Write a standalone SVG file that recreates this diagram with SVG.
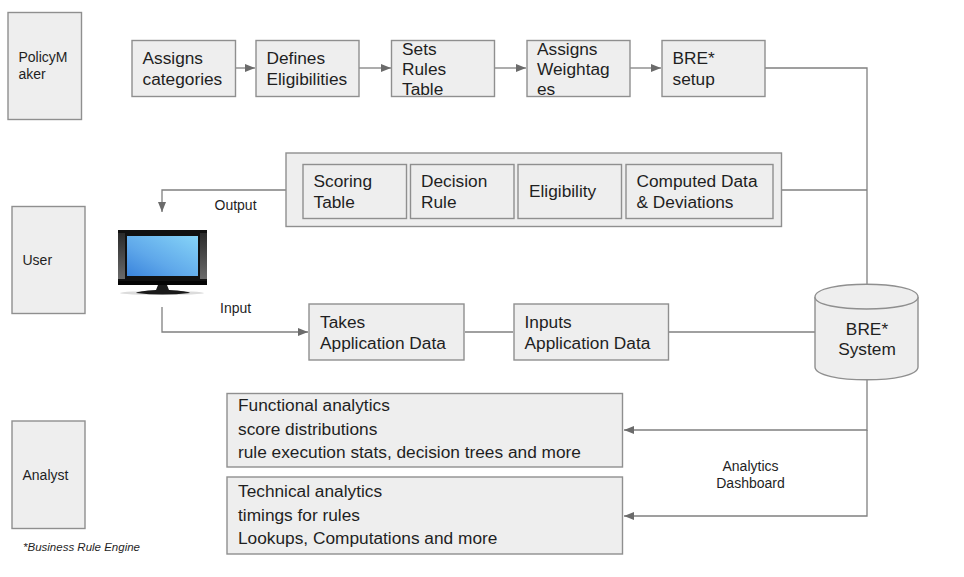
<svg xmlns="http://www.w3.org/2000/svg" width="964" height="577" viewBox="0 0 964 577">
<style>
text{font-family:"Liberation Sans",Arial,sans-serif;fill:#1f1f1f}
.b{fill:#eeeeee;stroke:#8f8f8f;stroke-width:1.4}
.t{font-size:17.3px}
.s{font-size:14px}
.c{fill:none;stroke:#808080;stroke-width:1.3}
.m{text-anchor:middle}
</style>
<defs>
<marker id="a" markerUnits="userSpaceOnUse" markerWidth="11" markerHeight="8" refX="10" refY="4" orient="auto"><path d="M0 0L10 4L0 8Z" fill="#6b6b6b"/></marker>
<linearGradient id="scr2" x1="1" y1="0" x2="0" y2="1"><stop offset="0" stop-color="#86d4f8"/><stop offset=".6" stop-color="#5fa8ea"/><stop offset="1" stop-color="#3a84dc"/></linearGradient>
<linearGradient id="bez" x1="0" y1="0" x2="0" y2="1"><stop offset="0" stop-color="#2a2a2a"/><stop offset="1" stop-color="#6a6a6a"/></linearGradient>
</defs>
<g id="connectors">
<path class="c" marker-end="url(#a)" d="M236 68H255"/>
<path class="c" marker-end="url(#a)" d="M359 68H391"/>
<path class="c" marker-end="url(#a)" d="M495 68H526"/>
<path class="c" marker-end="url(#a)" d="M630 68H661"/>
<path class="c" d="M765 68H867V285"/>
<path class="c" d="M782 190H867"/>
<path class="c" marker-end="url(#a)" d="M286 190H162V212"/>
<path class="c" marker-end="url(#a)" d="M162 307V332H308"/>
<path class="c" d="M465 332H513"/>
<path class="c" d="M669 332H815"/>
<path class="c" marker-end="url(#a)" d="M867 379V430H624"/>
<path class="c" marker-end="url(#a)" d="M867 430V516H624"/>
</g>
<g id="policymaker"><rect class="b" x="8" y="12.500" width="73.500" height="107"/><text class="s" x="18.500" y="62">PolicyM</text><text class="s" x="18.500" y="79">aker</text></g>
<g id="user"><rect class="b" x="12" y="206.500" width="73" height="107"/><text class="s" x="22.500" y="265">User</text></g>
<g id="analyst"><rect class="b" x="12" y="421" width="73" height="107.500"/><text class="s" x="22.500" y="480">Analyst</text></g>
<g id="assigns-categories"><rect class="b" x="132" y="40.500" width="103.500" height="56"/><text class="t" x="142.500" y="64">Assigns</text><text class="t" x="142.500" y="85">categories</text></g>
<g id="defines-eligibilities"><rect class="b" x="256" y="40.500" width="103" height="56"/><text class="t" x="266.500" y="64">Defines</text><text class="t" x="266.500" y="85">Eligibilities</text></g>
<g id="sets-rules-table"><rect class="b" x="391.500" y="40.500" width="103" height="56"/><text class="t" x="402" y="54.500">Sets</text><text class="t" x="402" y="75">Rules</text><text class="t" x="402" y="95">Table</text></g>
<g id="assigns-weightages"><rect class="b" x="527" y="40.500" width="103" height="56"/><text class="t" x="537" y="54.500">Assigns</text><text class="t" x="537" y="75">Weightag</text><text class="t" x="537" y="95">es</text></g>
<g id="bre-setup"><rect class="b" x="662" y="40.500" width="103" height="56"/><text class="t" x="672.500" y="64">BRE*</text><text class="t" x="672.500" y="85">setup</text></g>
<g id="output-group"><rect class="b" x="286" y="153" width="495.500" height="73.500"/></g>
<g id="scoring-table"><rect class="b" x="303" y="164.500" width="103.500" height="54"/><text class="t" x="313.500" y="187">Scoring</text><text class="t" x="313.500" y="208">Table</text></g>
<g id="decision-rule"><rect class="b" x="410.500" y="164.500" width="103.500" height="54"/><text class="t" x="421" y="187">Decision</text><text class="t" x="421" y="208">Rule</text></g>
<g id="eligibility"><rect class="b" x="518" y="164.500" width="103.500" height="54"/><text class="t" x="529" y="197">Eligibility</text></g>
<g id="computed-data"><rect class="b" x="626" y="164.500" width="147" height="54"/><text class="t" x="636.500" y="187">Computed Data</text><text class="t" x="636.500" y="208">&amp; Deviations</text></g>
<text class="s" x="214.500" y="210">Output</text>
<text class="s" x="220" y="313">Input</text>
<g id="monitor">
<ellipse cx="162" cy="293" rx="42" ry="2" fill="#dcdcdc"/>
<path d="M118 230H207V285H118Z" fill="#111"/>
<path d="M118 233H125V279H118ZM200 233H207V279H200Z" fill="url(#bez)"/>
<path d="M127 236H198V276H127Z" fill="url(#scr2)"/>
<path d="M118 281H207V285H118Z" fill="#050505"/>
<path d="M158 285H167L169 290Q188 291 190 293Q162 296 136 293Q138 291 156 290Z" fill="#1a1a1a"/>
</g>
<g id="takes-application-data"><rect class="b" x="309" y="304" width="155" height="56"/><text class="t" x="320" y="328">Takes</text><text class="t" x="320" y="349">Application Data</text></g>
<g id="inputs-application-data"><rect class="b" x="514" y="304" width="154.500" height="56"/><text class="t" x="524.500" y="328">Inputs</text><text class="t" x="524.500" y="349">Application Data</text></g>
<g id="bre-system">
<path class="b" d="M815 297C815 280 918 280 918 297V367C918 384 815 384 815 367Z"/>
<path class="b" fill="none" d="M815 297C815 313 918 313 918 297"/>
<text class="t m" x="867" y="334.500">BRE*</text><text class="t m" x="867" y="355">System</text>
</g>
<g id="functional-analytics"><rect class="b" x="227" y="393.500" width="395.500" height="73.500"/><text class="t" x="238" y="411">Functional analytics</text><text class="t" x="238" y="435">score distributions</text><text class="t" x="238" y="458">rule execution stats, decision trees and more</text></g>
<g id="technical-analytics"><rect class="b" x="227" y="477" width="395.500" height="77"/><text class="t" x="238" y="497">Technical analytics</text><text class="t" x="238" y="521">timings for rules</text><text class="t" x="238" y="544">Lookups, Computations and more</text></g>
<text class="s m" x="750.500" y="471">Analytics</text>
<text class="s m" x="750.500" y="488">Dashboard</text>
<text x="23" y="551" font-size="11.500" font-style="italic">*Business Rule Engine</text>
</svg>
